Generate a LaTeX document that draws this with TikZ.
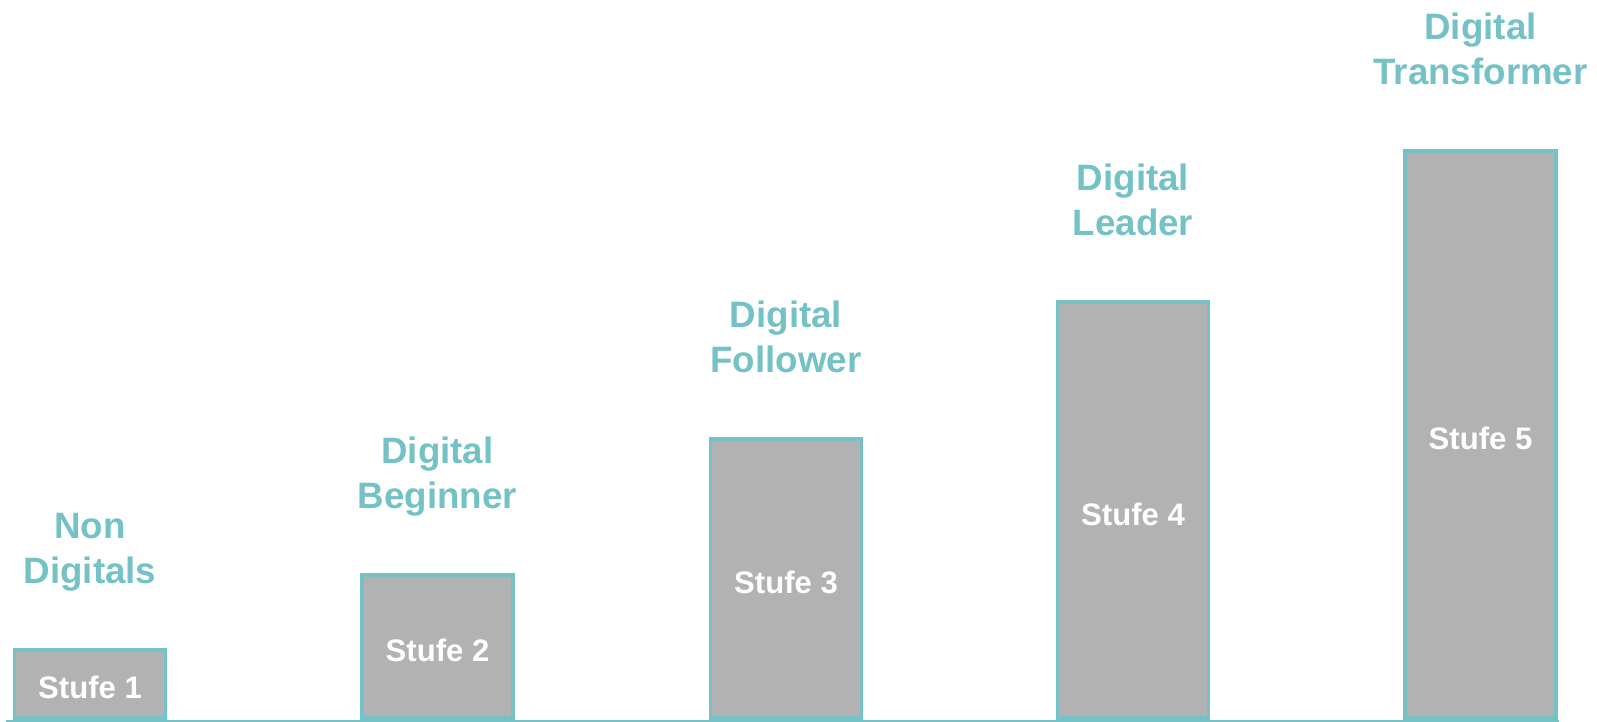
\documentclass[tikz,border=0pt]{standalone}
\usepackage{fontspec}
\setmainfont{Liberation Sans}
\usetikzlibrary{positioning}

\definecolor{stufeteal}{RGB}{116,193,198}
\definecolor{stufegray}{RGB}{178,178,178}

\tikzset{
	stufebar/.style={draw=stufeteal, fill=stufegray, line width=2pt, anchor=south,
		minimum width=3.02cm, inner sep=0pt, text=white, text height=0.6cm, text depth=0pt,
		font=\fontsize{17.7}{20}\selectfont\bfseries},
	levellabel/.style={text=stufeteal, align=center, inner sep=0pt, text depth=0pt,
		font=\fontsize{20.9}{25.6}\selectfont\bfseries},
}

\begin{document}
\begin{tikzpicture}[x=0.02cm, y=0.02cm, line cap=rect, node distance=1.28cm]

\useasboundingbox (0,-2) rectangle (1597,720);

%Coordinates
\coordinate (axisL) at (7,-1);
\coordinate (axisR) at (1558,-1);

% Bars
\node[stufebar, minimum height=1.37cm] (b1) at (90,0) {Stufe 1};
\node[stufebar, minimum height=2.87cm] (b2) at (437.5,0) {Stufe 2};
\node[stufebar, minimum height=5.59cm] (b3) at (786,0) {Stufe 3};
\node[stufebar, minimum height=8.33cm] (b4) at (1133,0) {Stufe 4};
\node[stufebar, minimum height=11.35cm] (b5) at (1480.5,0) {Stufe 5};

% Base line
\draw[stufeteal, line width=1.1pt] (axisL) -- (axisR);

% Nodes
\node[levellabel, above=of b1] (l1) {Non\\Digitals};
\node[levellabel, above=of b2] (l2) {Digital\\Beginner};
\node[levellabel, above=of b3] (l3) {Digital\\Follower};
\node[levellabel, above=of b4] (l4) {Digital\\Leader};
\node[levellabel, above=of b5] (l5) {Digital\\Transformer};

\end{tikzpicture}
\end{document}
